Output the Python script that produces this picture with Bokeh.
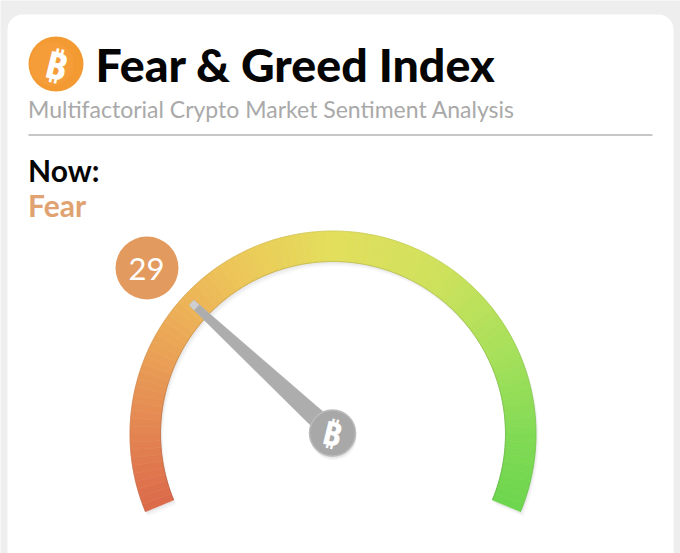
import math
from bokeh.embed import file_html
from bokeh.resources import INLINE
from bokeh.plotting import figure
from bokeh.models import Range1d
from bokeh.core.properties import value

TITLE = "Fear & Greed Index"
SUBTITLE = "Multifactorial Crypto Market Sentiment Analysis"
NOW_LABEL = "Now:"
STATE_LABEL = "Fear"
INDEX_VALUE = 29
SCALE_MIN = 0
SCALE_MAX = 100
STOP_VALUES = [0, 12, 25, 38, 50, 65, 80, 90, 100]
STOP_COLORS = ["#dc6a4b", "#e58a53", "#ecab57", "#ecca59", "#e3df5c", "#cfe25c", "#a3e05a", "#83db55", "#6dd64e"]

W, H = 680, 553
GREY = "#eeeeee"
CX, CY = 332.5, 433.5
R_OUT, R_IN = 203.0, 172.5
A0, A1 = 202.5, -22.5


def Y(py):
    return 553 - py


def ang(v):
    return math.radians(A0 + (A1 - A0) * (v - SCALE_MIN) / (SCALE_MAX - SCALE_MIN))


def hex2rgb(h):
    return [int(h[i:i + 2], 16) for i in (1, 3, 5)]


def color_at(v, dark=1.0):
    for i in range(len(STOP_VALUES) - 1):
        if v <= STOP_VALUES[i + 1]:
            t = (v - STOP_VALUES[i]) / (STOP_VALUES[i + 1] - STOP_VALUES[i])
            a, b = hex2rgb(STOP_COLORS[i]), hex2rgb(STOP_COLORS[i + 1])
            c = [int((a[k] + (b[k] - a[k]) * t) * dark) for k in range(3)]
            return "#%02x%02x%02x" % tuple(c)
    return STOP_COLORS[-1]


p = figure(width=W, height=H, x_range=Range1d(0, 680), y_range=Range1d(0, 553),
           output_backend="svg", toolbar_location=None, min_border=0)
p.axis.visible = False
p.grid.visible = False
p.outline_line_color = None
p.background_fill_color = GREY
p.border_fill_color = GREY

# card with rounded top corners
r = 15
xs, ys = [], []
for k in range(0, 10):
    t = math.pi + k / 9 * math.pi / 2
    xs.append(7 + r + r * math.cos(t)); ys.append(Y(14 + r + r * math.sin(t)))
for k in range(0, 10):
    t = 1.5 * math.pi + k / 9 * math.pi / 2
    xs.append(673 - r + r * math.cos(t)); ys.append(Y(14 + r + r * math.sin(t)))
xs += [673, 7]; ys += [Y(560), Y(560)]
p.patch(xs, ys, fill_color="#ffffff", line_color=None)


def label(x, py, txt, color, size, font="Lato", style="normal", shift=0.4):
    p.text([x], [Y(py - shift * size)], text=[txt], text_color=color, text_font=value(font),
           text_font_style=style, text_font_size=f"{size}px", text_align="left", text_baseline="alphabetic")


# header
p.circle([55.5], [Y(63.5)], radius=27.5, fill_color="#f39a33", line_color=None)
p.circle([51.5], [Y(63.5)], radius=22, fill_color="#f6a445", fill_alpha=0.35, line_color=None)
p.text([56], [Y(64)], text=["\u20bf"], text_color="#ffffff", text_font=value("Noto Sans"),
       text_font_style="bold", text_font_size="38px", text_align="center", text_baseline="middle", angle=-0.24)
label(95, 82.5, TITLE, "#050505", 46.5, font="Lato Black")
label(27.5, 118, SUBTITLE, "#a9a9a9", 23)
p.segment([28], [Y(134.5)], [652], [Y(134.5)], line_color="#b4b4b4", line_width=1.5)
label(27.5, 181.5, NOW_LABEL, "#050505", 30, style="bold")
label(27.5, 216, STATE_LABEL, "#e0a271", 30, style="bold")

# band shadow
for off, alpha in ((5, 0.03), (3.5, 0.04), (2, 0.05)):
    p.annular_wedge([CX + off * 0.6], [Y(CY + off)], R_IN, R_OUT, ang(SCALE_MAX), ang(SCALE_MIN),
                    fill_color="#555566", fill_alpha=alpha, line_color=None)

# band, drawn as a fine gradient
for v in range(SCALE_MIN, SCALE_MAX):
    c = color_at(v + 0.5)
    p.annular_wedge([CX], [Y(CY)], R_IN, R_OUT, ang(v + 1), ang(v),
                    fill_color=c, line_color=c, line_width=0.6)
    e = color_at(v + 0.5, 0.82)
    p.arc([CX], [Y(CY)], R_IN, ang(v + 1), ang(v), line_color=e, line_width=1, line_alpha=0.7)
    p.arc([CX], [Y(CY)], R_OUT, ang(v + 1), ang(v), line_color=e, line_width=1, line_alpha=0.4)

# badge
p.circle([146.5], [Y(267.5)], radius=31.5, fill_color="#e39a5f", line_color=None)
p.text([146], [Y(268)], text=[str(INDEX_VALUE)], text_color="#ffffff", text_font=value("Lato"),
       text_font_size="31px", text_align="center", text_baseline="middle")

# needle
a = ang(INDEX_VALUE)
ux, uy = math.cos(a), math.sin(a)
nx, ny = -uy, ux
L = 192.0
TIP = 3.5
hx, hy = CX - 0.5, Y(432.5)
for off, alpha in ((3, 0.05), (1.5, 0.07)):
    p.patch([hx + ux * L + nx * TIP + off, hx + ux * L - nx * TIP + off, hx - nx * 10 + off, hx + nx * 10 + off],
            [hy + uy * L + ny * TIP - off, hy + uy * L - ny * TIP - off, hy - ny * 10 - off, hy + ny * 10 - off],
            fill_color="#444444", fill_alpha=alpha, line_color=None)
p.patch([hx + ux * L + nx * TIP, hx + ux * L - nx * TIP, hx - nx * 10, hx + nx * 10],
        [hy + uy * L + ny * TIP, hy + uy * L - ny * TIP, hy - ny * 10, hy + ny * 10],
        fill_color="#adadad", line_color="#b9b9b9", line_width=0.5)
p.patch([hx + ux * L + nx * TIP, hx + ux * L - nx * TIP, hx + ux * (L - 7) - nx * 3.8, hx + ux * (L - 7) + nx * 3.8],
        [hy + uy * L + ny * TIP, hy + uy * L - ny * TIP, hy + uy * (L - 7) - ny * 3.8, hy + uy * (L - 7) + ny * 3.8],
        fill_color="#cfcfcf", line_color=None)
for off, alpha in ((4, 0.05), (2.5, 0.07), (1, 0.1)):
    p.circle([hx + off * 0.3], [hy - off], radius=23, fill_color="#444444", fill_alpha=alpha, line_color=None)
p.circle([hx], [hy], radius=23, fill_color="#a8a8a8", line_color="#bbbbbb", line_width=1.5)
p.text([hx], [hy], text=["\u20bf"], text_color="#ffffff", text_font=value("Noto Sans"),
       text_font_style="bold", text_font_size="33px", text_align="center", text_baseline="middle", angle=-0.24)

html = file_html(p, INLINE)
html = html.replace("<body>", '<body style="overflow:hidden;margin:0;background:' + GREY + '">', 1)
open("out.html", "w").write(html)
